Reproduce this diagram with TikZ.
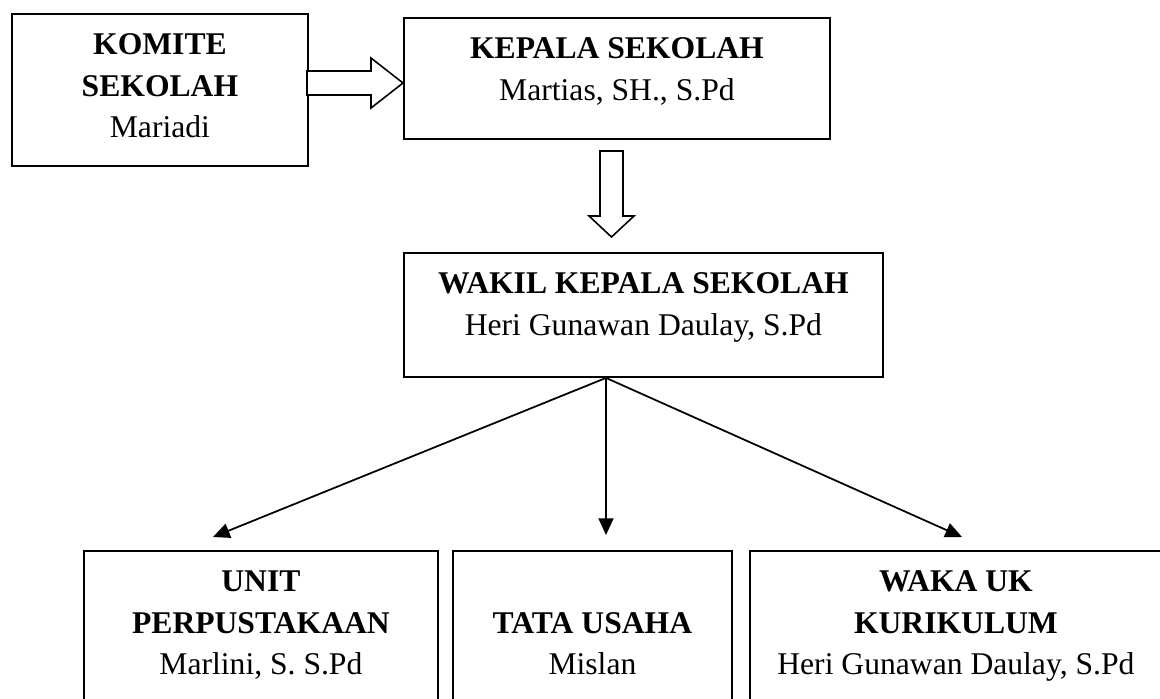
\documentclass[tikz,border=0pt]{standalone}
\usepackage{fontspec}
\setmainfont{Liberation Serif}
\usetikzlibrary{arrows.meta,calc}

\newcommand{\orgtext}[3]{\parbox[t][#2][t]{#1}{\centering\rule{0pt}{23.2pt}#3}}

\begin{document}
\begin{tikzpicture}
    [x=0.02cm, y=-0.02cm,
    orgbox/.style={draw, line width=1.1pt, inner sep=0pt, anchor=north west,
        font=\fontsize{18}{23.5}\selectfont},
    hollow/.style={draw, line width=0.9pt, fill=white, line join=miter},
    link/.style={line width=1pt, -{Triangle[length=9.5pt, width=8.5pt]}}
    ]
    \clip (0,0) rectangle (1160,698);
    \fill[white] (0,0) rectangle (1160,698);

    \node[orgbox] (komite) at (11,13)
        {\orgtext{5.92cm}{3.04cm}{\textbf{KOMITE}\\ \textbf{SEKOLAH}\\ Mariadi}};
    \node[orgbox] (kepala) at (403,17)
        {\orgtext{8.52cm}{2.42cm}{\textbf{KEPALA SEKOLAH}\\ Martias, SH., S.Pd}};
    \node[orgbox] (wakil) at (403,252)
        {\orgtext{9.58cm}{2.48cm}{\textbf{WAKIL KEPALA SEKOLAH}\\ Heri Gunawan Daulay, S.Pd}};
    \node[orgbox] (unit) at (83,550)
        {\orgtext{7.08cm}{3.4cm}{\textbf{UNIT}\\ \textbf{PERPUSTAKAAN}\\ Marlini, S. S.Pd}};
    \node[orgbox] (tata) at (452,550)
        {\orgtext{5.58cm}{3.4cm}{\\ \textbf{TATA USAHA}\\ Mislan}};
    \node[orgbox] (waka) at (749,550)
        {\orgtext{8.24cm}{3.4cm}{\textbf{WAKA UK}\\ \textbf{KURIKULUM}\\ Heri Gunawan Daulay, S.Pd}};

    \draw[hollow] (307,71) -- (371,71) -- (371,58) -- (403,83)
        -- (371,108) -- (371,95) -- (307,95) -- cycle;
    \draw[hollow] (600,151) -- (600,216) -- (589,216) -- (611.5,237)
        -- (634,216) -- (623,216) -- (623,151) -- cycle;

    \coordinate (hub) at ($(wakil.south west)+(203,0)$);
    \coordinate (tounit) at (213,537);
    \coordinate (totata) at (606,535);
    \coordinate (towaka) at (962,537);
    \draw[link] (hub) -- (tounit);
    \draw[link] (hub) -- (totata);
    \draw[link] (hub) -- (towaka);
\end{tikzpicture}
\end{document}
